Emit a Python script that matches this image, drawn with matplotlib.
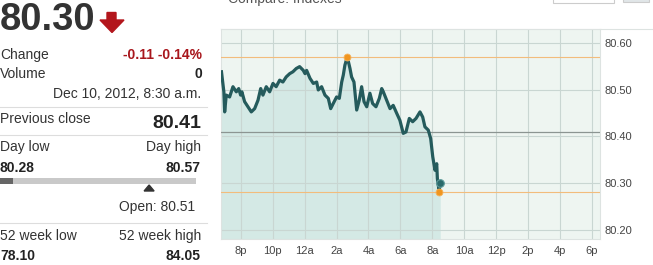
import numpy as np
import matplotlib
matplotlib.use("Agg")
from matplotlib import pyplot as plt
from matplotlib.patches import Rectangle, Polygon
from matplotlib.lines import Line2D

plt.rcParams['font.family'] = ['Liberation Sans', 'DejaVu Sans']

# quote panel values
last_price = "80.30"
change_txt = "-0.11 -0.14%"
volume_txt = "0"
stamp_txt = "Dec 10, 2012, 8:30 a.m."
prev_close = 80.41
day_low = 80.28
day_high = 80.57
open_price = 80.51
last_val = 80.30
wk52_low = "78.10"
wk52_high = "84.05"

# intraday series: hours since midnight of Dec 9 (20 = 8p, 32 = 8a)
hours = [18.78, 18.93, 18.98, 19.08, 19.29, 19.50, 19.71, 19.86, 19.98, 20.06,
         20.23, 20.44, 20.65, 20.86, 21.07, 21.24, 21.38, 21.59, 21.80, 22.01,
         22.21, 22.43, 22.63, 22.84, 23.06, 23.26, 23.47, 23.68, 23.91, 24.02,
         24.12, 24.33, 24.54, 24.75, 24.85, 25.06, 25.27, 25.48, 25.63, 25.79,
         26.00, 26.17, 26.32, 26.42, 26.52, 26.67, 26.84, 26.94, 27.09, 27.26,
         27.42, 27.57, 27.72, 27.89, 28.09, 28.26, 28.47, 28.68, 28.83, 28.93,
         29.14, 29.35, 29.55, 29.77, 29.97, 30.18, 30.35, 30.56, 30.77, 30.98,
         31.23, 31.40, 31.54, 31.75, 31.90, 32.03, 32.17, 32.28, 32.32, 32.44,
         32.48, 32.50]
prices = [80.538, 80.495, 80.452, 80.488, 80.484, 80.506, 80.495, 80.502, 80.488, 80.495,
          80.474, 80.463, 80.452, 80.459, 80.477, 80.502, 80.488, 80.506, 80.495, 80.513,
          80.506, 80.520, 80.516, 80.527, 80.534, 80.538, 80.545, 80.549, 80.541, 80.534,
          80.541, 80.524, 80.513, 80.516, 80.499, 80.506, 80.488, 80.481, 80.459, 80.470,
          80.484, 80.481, 80.516, 80.531, 80.552, 80.570, 80.545, 80.527, 80.516, 80.456,
          80.477, 80.506, 80.474, 80.463, 80.492, 80.470, 80.463, 80.481, 80.502, 80.495,
          80.477, 80.459, 80.466, 80.449, 80.434, 80.406, 80.409, 80.438, 80.431, 80.438,
          80.452, 80.441, 80.420, 80.413, 80.395, 80.356, 80.327, 80.341, 80.309, 80.280,
          80.302, 80.300]
high_time = 26.67
low_time = 32.44

xticks = [20, 22, 24, 26, 28, 30, 32, 34, 36, 38, 40, 42]
xlabels = ['8p', '10p', '12a', '2a', '4a', '6a', '8a', '10a', '12p', '2p', '4p', '6p']
yticks = [80.20, 80.30, 80.40, 80.50, 80.60]

W, H = 653, 265
fig = plt.figure(figsize=(W / 100, H / 100), dpi=100)


def px(x, y):
    return x / W, 1 - y / H


def label(x, y, s, ha='left', size=10, weight='normal', color='#333333'):
    fig.text(*px(x, y), s, ha=ha, va='baseline', fontsize=size,
             fontweight=weight, color=color)


def hline(y, x0=0, x1=207, color='#dddddd'):
    fig.add_artist(Line2D([x0 / W, x1 / W], [1 - y / H, 1 - y / H],
                          color=color, lw=0.8, transform=fig.transFigure))


# ---- left quote panel ----
label(0, 30, last_price, size=27.5, weight='bold', color='#333333')
arrow = [(107, 12.5), (116, 12.5), (116, 20), (124, 20), (112, 32.5), (100, 20), (107, 20)]
fig.add_artist(Polygon([px(a, b) for a, b in arrow], closed=True,
                       transform=fig.transFigure, color='#b3161c'))
label(0, 59, "Change")
label(202, 59, change_txt, ha='right', weight='bold', color='#a8161c')
label(0, 77.5, "Volume")
label(202, 77.5, volume_txt, ha='right', weight='bold', color='#222222')
label(201, 97.5, stamp_txt, ha='right')
hline(106.5)
label(0, 123, "Previous close")
label(201, 128, f"{prev_close:.2f}", ha='right', size=14, weight='bold', color='#222222')
hline(134.5)
label(0, 151.5, "Day low")
label(201, 151.5, "Day high", ha='right')
label(0, 171.5, f"{day_low:.2f}", weight='bold', color='#222222')
label(201, 171.5, f"{day_high:.2f}", ha='right', weight='bold', color='#222222')

# day range bar
bar_w = 188
fig.add_artist(Rectangle(px(0, 184), 196 / W, 6.5 / H, transform=fig.transFigure,
                         color='#c9c9c9', lw=0))
cur = (last_val - day_low) / (day_high - day_low) * bar_w
fig.add_artist(Rectangle(px(0, 184), cur / W, 6.5 / H, transform=fig.transFigure,
                         color='#666666', lw=0))
op = (open_price - day_low) / (day_high - day_low) * bar_w
tri = [(op - 5, 191), (op + 5, 191), (op, 185)]
fig.add_artist(Polygon([px(a, b) for a, b in tri], closed=True,
                       transform=fig.transFigure, color='#333333'))
label(195, 211.5, f"Open: {open_price:.2f}", ha='right')
hline(222.5)
label(0, 240, "52 week low")
label(201, 240, "52 week high", ha='right')
label(0, 259.5, wk52_low, weight='bold', color='#222222')
label(201, 259.5, wk52_high, ha='right', weight='bold', color='#222222')

# cut-off header bits above chart (clipped in the reference too)
label(228, 2.5, "Compare: Indexes", size=10, color='#555555')
fig.add_artist(Rectangle(px(553, 2.5), 61 / W, 6 / H, transform=fig.transFigure,
                         facecolor='white', edgecolor='#cccccc', lw=0.8))
fig.add_artist(Rectangle(px(623, 2), 26 / W, 6 / H, transform=fig.transFigure,
                         facecolor='#e1e6e8', edgecolor='#cccccc', lw=0.8))
hline(29.3, 221, 653, color='#dde3e1')

# ---- chart ----
ax = fig.add_axes([221 / W, (H - 239.3) / H, (600 - 221) / W, (239.3 - 29.3) / H])
ax.set_facecolor('#eef5f1')
ymin, ymax = 80.179, 80.629
ax.set_xlim(18.75, 42.52)
ax.set_ylim(ymin, ymax)

ax.fill_between(hours, prices, ymin, color='#d4e9e5', lw=0, zorder=1)
for xt in xticks:
    ax.axvline(xt, color='#c9d6d2', lw=0.8, zorder=2)
for yt in yticks:
    ax.axhline(yt, color='#c9d6d2', lw=0.8, zorder=2)
ax.axhline(day_high, color='#f2bc7c', lw=0.8, zorder=3)
ax.axhline(day_low, color='#f2bc7c', lw=0.8, zorder=3)
ax.axhline(prev_close, color='#8c9592', lw=0.9, zorder=3)

ax.plot(hours, prices, color='#255b5c', lw=2.3, zorder=4, solid_joinstyle='round')
ax.plot([high_time, low_time], [day_high, day_low], 'o', color='#f0951f',
        ms=5, mec='#f5b45e', mew=0.6, zorder=5)
ax.plot([hours[-1]], [prices[-1]], 'o', color='#2b6a6b', ms=5.5, mec='#5d9a9a',
        mew=0.8, zorder=5)

ax.set_xticks(xticks)
ax.set_xticklabels(xlabels)
ax.set_yticks(yticks)
ax.set_yticklabels([f"{v:.2f}" for v in yticks])
ax.yaxis.tick_right()
ax.tick_params(length=0, labelsize=8, colors='#444444')
ax.tick_params(axis='y', pad=3)
ax.tick_params(axis='x', pad=4.5)
for s in ax.spines.values():
    s.set_color('#dde3e1')
    s.set_linewidth(0.8)

fig.savefig("out.png", dpi=100)
